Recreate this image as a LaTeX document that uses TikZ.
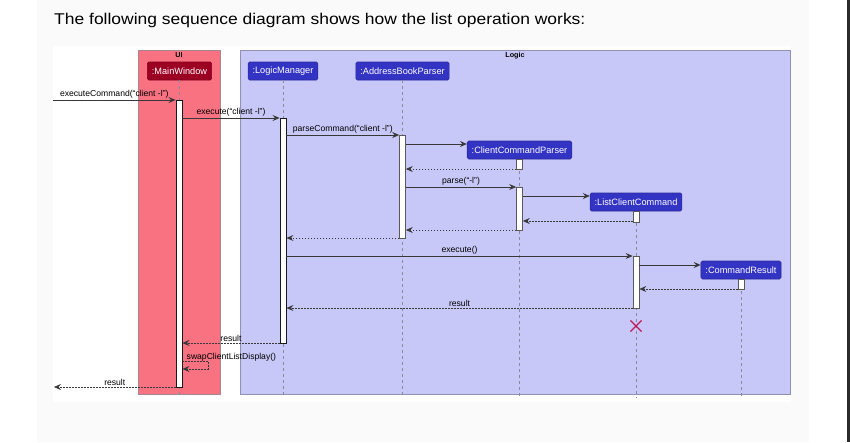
\documentclass[tikz,border=0pt]{standalone}
\usepackage{fontspec}
\setmainfont{Liberation Sans}
\usetikzlibrary{arrows.meta,shapes.misc}
\definecolor{panelgrey}{HTML}{FAFAFA}
\definecolor{stripdark}{HTML}{2B2B2B}
\definecolor{uifill}{HTML}{F87282}
\definecolor{uiborder}{HTML}{A88890}
\definecolor{logicfill}{HTML}{C8C8F8}
\definecolor{logicborder}{HTML}{9090B0}
\definecolor{mwred}{HTML}{9C0022}
\definecolor{partblue}{HTML}{3434C4}
\definecolor{linegrey}{HTML}{383838}
\definecolor{lifegrey}{HTML}{8A8A9A}
\definecolor{destroyred}{HTML}{C0185A}
\tikzset{
  frame/.style={anchor=north west, inner sep=0pt, line width=0.8pt},
  framelbl/.style={font=\bfseries\fontsize{7.2}{8}\selectfont, inner sep=0pt},
  part/.style={font=\fontsize{9.2}{10}\selectfont, text=white, minimum height=18pt,
    inner xsep=4.5pt, inner ysep=0pt, rounded corners=1.5pt, line width=0.6pt},
  lifeline/.style={draw=lifegrey, line width=0.6pt, dash pattern=on 3pt off 3pt},
  act/.style={draw=black!65, fill=white, minimum width=6pt, inner sep=0pt, line width=0.7pt},
  actmain/.style={act, draw=black!90, line width=0.9pt},
  msg/.style={draw=linegrey, line width=0.8pt, -{Stealth[length=7pt,width=6pt,inset=2.5pt]}},
  ret/.style={draw=linegrey, line width=0.6pt, dash pattern=on 1.5pt off 1.5pt,
    -{Stealth[length=7pt,width=6pt,inset=2.5pt]}},
  lbl/.style={font=\fontsize{8.6}{9}\selectfont, inner sep=1.5pt, text=black}
}
\begin{document}
\begin{tikzpicture}[x=1pt,y=-1pt]
\useasboundingbox (0,0) rectangle (850,442);
\fill[white] (0,0) rectangle (850,442);
\fill[panelgrey] (37,0) rectangle (809,442);
\fill[stripdark] (847,0) rectangle (850,442);
\fill[white] (53,46) rectangle (791,402);

\node[anchor=base west, inner sep=0pt, font=\fontsize{15.6}{18}\selectfont] (title) at (54,24)
  {\scalebox{1.12}[1]{The following sequence diagram shows how the list operation works:}};

% frames
\node[frame, fill=uifill, draw=uiborder, minimum width=82pt, minimum height=344pt] (ui) at (138,50) {};
\node[frame, fill=logicfill, draw=logicborder, minimum width=550pt, minimum height=344pt] (logic) at (240,50) {};
\node[framelbl] (uilbl) at (179,55.5) {UI};
\node[framelbl] (logiclbl) at (515,56) {Logic};

% participants
\node[part, fill=mwred, draw=mwred!80!black] (mw) at (179.5,71) {:MainWindow};
\node[part, fill=partblue, draw=partblue!80!black] (lm) at (283,71) {:LogicManager};
\node[part, fill=partblue, draw=partblue!80!black] (abp) at (402.5,71) {:AddressBookParser};
\node[part, fill=partblue, draw=partblue!80!black] (ccp) at (519.5,150) {:ClientCommandParser};
\node[part, fill=partblue, draw=partblue!80!black] (lcc) at (636,202) {:ListClientCommand};
\node[part, fill=partblue, draw=partblue!80!black] (cr) at (741,270) {:CommandResult};

% lifelines
\draw[lifeline] (mw.south) -- (mw.south |- 0,398);
\draw[lifeline] (lm.south) -- (lm.south |- 0,398);
\draw[lifeline] (abp.south) -- (abp.south |- 0,398);
\draw[lifeline] (ccp.south) -- (ccp.south |- 0,398);
\draw[lifeline] (lcc.south) -- (lcc.south |- 0,398);
\draw[lifeline] (cr.south) -- (cr.south |- 0,398);

% activations
\node[actmain, minimum height=287pt] (aMW) at (179,243.5) {};
\node[actmain, minimum height=225pt] (aLM) at (283,230.5) {};
\node[act, minimum height=103pt] (aABP) at (402.5,186.5) {};
\node[act, minimum height=10pt] (aCCP1) at (519.5,164) {};
\node[act, minimum height=43pt] (aCCP2) at (519.5,208.5) {};
\node[act, minimum height=11pt] (aLCC1) at (636,216.5) {};
\node[act, minimum height=52pt] (aLCC2) at (636,282) {};
\node[act, minimum height=10pt] (aCR) at (741,284) {};

% messages
\coordinate (extIn) at (53,100);
\coordinate (extOut) at (54,387);
\draw[msg] (extIn) -- (aMW.west |- extIn) node[lbl, midway, above] {executeCommand(“client -l”)};
\draw[msg] (aMW.east |- 0,118) -- (aLM.west |- 0,118) node[lbl, midway, above] {execute(“client -l”)};
\draw[msg] (aLM.east |- 0,135) -- (aABP.west |- 0,135) node[lbl, midway, above] {parseCommand(“client -l”)};
\draw[msg] (aABP.east |- 0,144) -- (ccp.west |- 0,144);
\draw[ret] (aCCP1.west |- 0,169) -- (aABP.east |- 0,169);
\draw[msg] (aABP.east |- 0,187) -- (aCCP2.west |- 0,187) node[lbl, midway, above] {parse(“-l”)};
\draw[msg] (aCCP2.east |- 0,196) -- (lcc.west |- 0,196);
\draw[ret] (aLCC1.west |- 0,221) -- (aCCP2.east |- 0,221);
\draw[ret] (aCCP2.west |- 0,230) -- (aABP.east |- 0,230);
\draw[ret] (aABP.west |- 0,238) -- (aLM.east |- 0,238);
\draw[msg] (aLM.east |- 0,256) -- (aLCC2.west |- 0,256) node[lbl, midway, above] {execute()};
\draw[msg] (aLCC2.east |- 0,265) -- (cr.west |- 0,265);
\draw[ret] (aCR.west |- 0,289) -- (aLCC2.east |- 0,289);
\draw[ret] (aLCC2.west |- 0,308) -- (aLM.east |- 0,308) node[lbl, midway, above] {result};
\node[cross out, draw=destroyred, line width=1.1pt, minimum size=10pt, inner sep=0pt] (destroy) at (636,326) {};
\draw[ret] (aLM.west |- 0,343) -- (aMW.east |- 0,343) node[lbl, midway, above] {result};
\coordinate (swapTurn) at (208,365);
\draw[ret] (aMW.east |- 0,361) -| (swapTurn) |- (aMW.east |- 0,369);
\node[lbl, anchor=base west, inner sep=0pt] (swaplbl) at (186.5,359) {swapClientListDisplay()};
\draw[ret] (aMW.west |- extOut) -- (extOut) node[lbl, midway, above] {result};
\end{tikzpicture}
\end{document}
